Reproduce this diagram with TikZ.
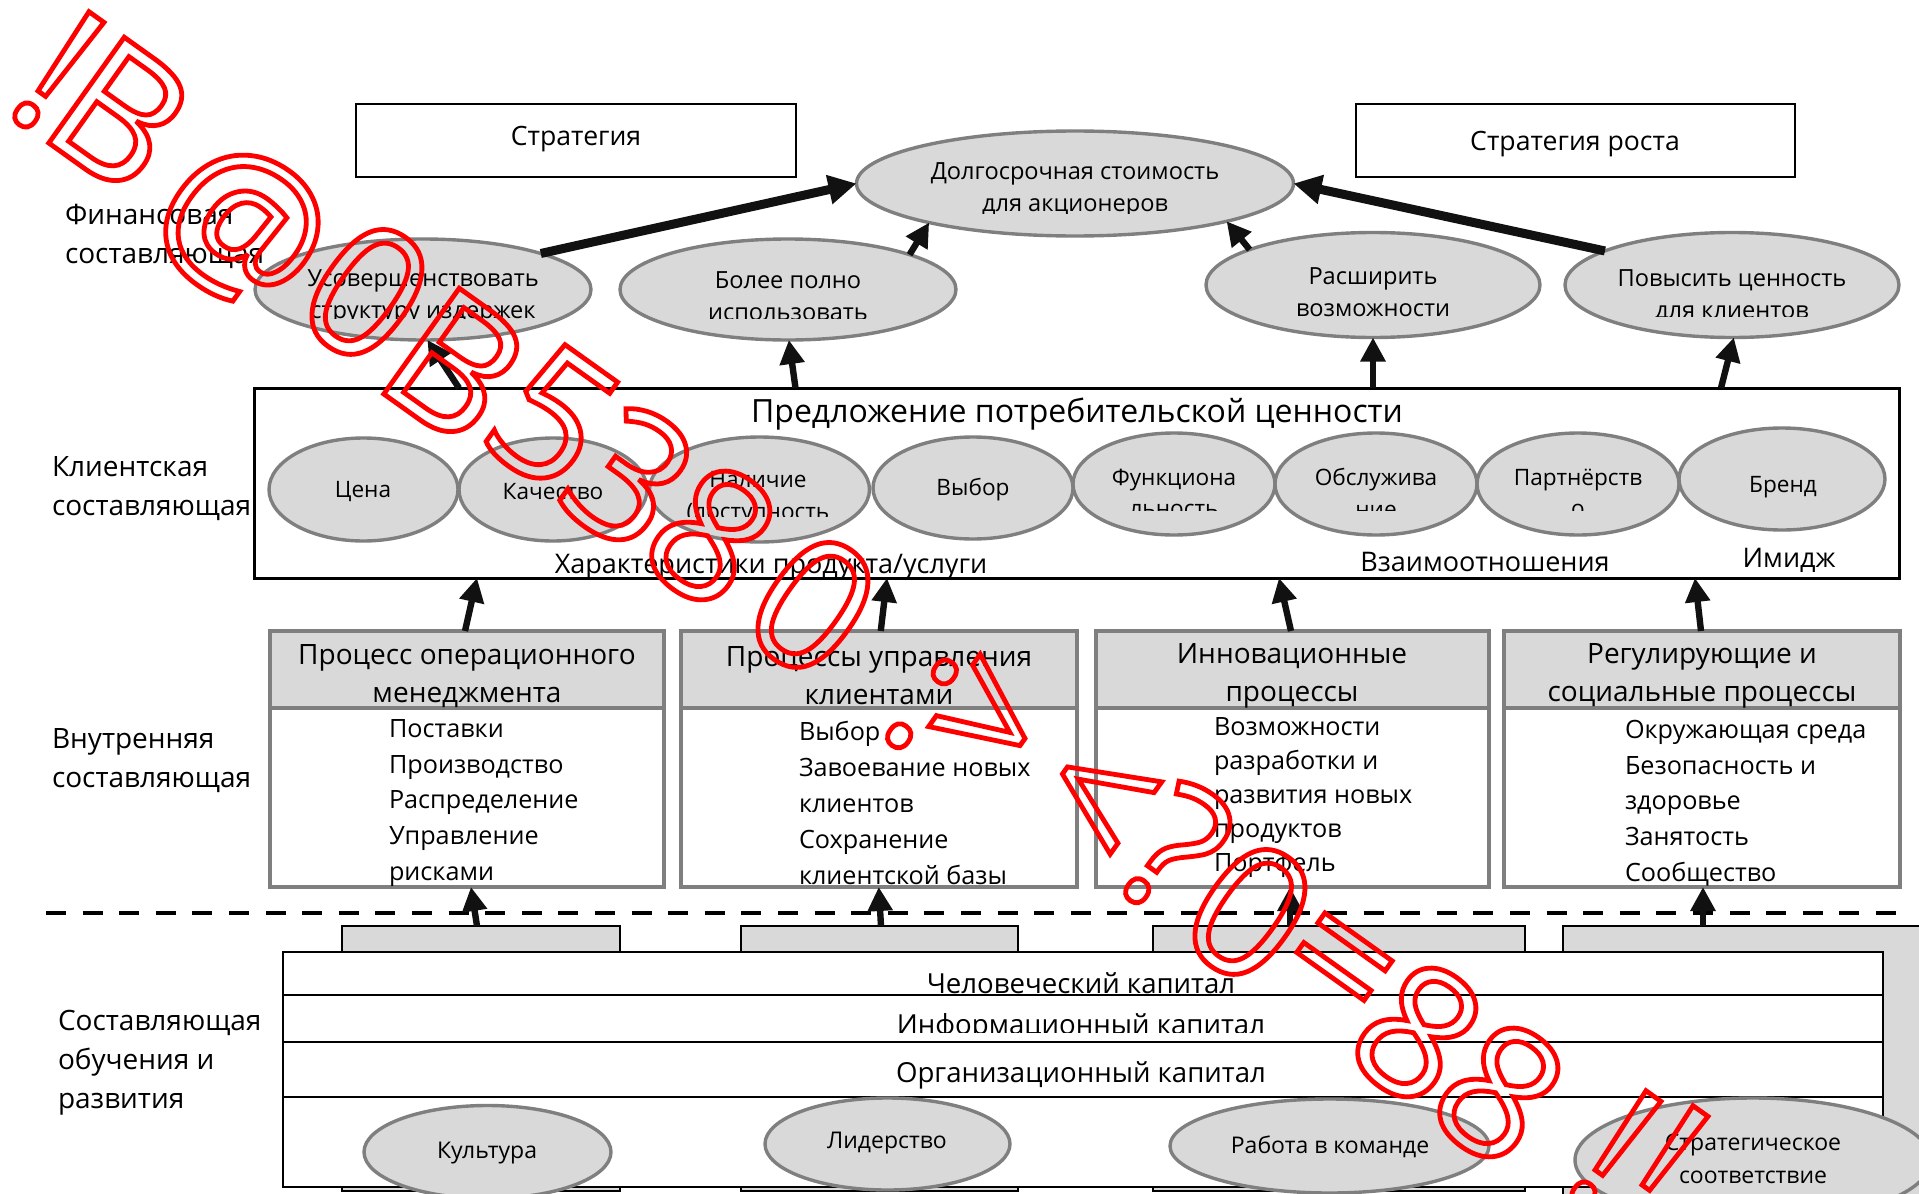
\documentclass[tikz,border=0pt]{standalone}
\usepackage{fontspec}
\setmainfont{Open Sans}
\usetikzlibrary{shapes.geometric,arrows.meta}
\definecolor{ovalfill}{HTML}{D9D9D9}
\definecolor{ovaledge}{HTML}{7F7F7F}
\definecolor{ink}{HTML}{111111}
\definecolor{markred}{HTML}{FF0000}
\newcommand\fsz[2]{\fontsize{#1}{#2}\selectfont}
% stroked (outline) glyphs through a raw content-stream literal
\newcommand\outl[1]{\special{pdf:literal direct 1 Tr 2.4 w 1 0 0 RG}#1\special{pdf:literal direct 0 Tr}}

\begin{document}
\begin{tikzpicture}[x=0.5pt,y=-0.5pt,
  every node/.style={inner sep=0pt,outer sep=0pt},
  frame/.style={rectangle,draw=black,line width=1.3pt,fill=white},
  oval/.style={ellipse,draw=ovaledge,fill=ovalfill,line width=1.7pt},
  head/.style={rectangle,draw=ovaledge,fill=ovalfill,line width=2.2pt,minimum height=38.5pt},
  body/.style={rectangle,draw=ovaledge,fill=white,line width=2.2pt,minimum height=89.5pt},
  tab/.style={rectangle,draw=black,fill=ovalfill,line width=1pt},
  layer/.style={rectangle,draw=black,fill=white,line width=1pt,minimum width=799.8pt},
  arr/.style={draw=ink,line width=3.2pt,-{Triangle[length=12pt,width=12pt]}},
  bigarr/.style={draw=ink,line width=4.5pt,-{Triangle[length=14pt,width=14pt]}},
  side/.style={anchor=west,align=left,font=\fsz{14}{19.5}},
  boxtxt/.style={font=\fsz{13.3}{16}},
  fintxt/.style={align=center,font=\fsz{11.8}{16}},
  cvtxt/.style={align=center,font=\fsz{11.3}{15.75}},
  captxt/.style={font=\fsz{13.5}{16}},
  headtxt/.style={align=center,font=\fsz{14}{19}},
  listtxt/.style={anchor=west,align=left,font=\fsz{12.6}{17.9}},
  rowtxt/.style={font=\fsz{13.8}{16}},
  lowtxt/.style={align=center,font=\fsz{11.5}{16.5}},
  wmark/.style={rotate=-35.5,text=markred,font=\fsz{91}{91}}
]
\useasboundingbox (0,0) rectangle (1919,1194);
\clip (0,0) rectangle (1919,1194);

% ---------- learning and growth ----------
\node[tab,minimum width=139pt,minimum height=132.5pt] (tab1) at (481,1058.5) {};
\node[tab,minimum width=138.5pt,minimum height=132.5pt] (tab2) at (879.5,1058.5) {};
\node[tab,minimum width=186pt,minimum height=132.5pt] (tab3) at (1339,1058.5) {};
\node[tab,minimum width=198.5pt,minimum height=152pt] (tab4) at (1761.5,1078) {};

\node[layer,minimum height=21.5pt] (hum) at (1082.8,973.5) {};
\node[layer,minimum height=23.5pt] (inf) at (1082.8,1018.5) {};
\node[layer,minimum height=27.5pt] (org) at (1082.8,1069.5) {};
\node[layer,minimum height=45pt] (cult) at (1082.8,1142) {};

\node[rowtxt] (humt) at (1081,983) {Человеческий капитал};
\begin{scope}
  \clip (283,995) rectangle (1883,1032);
  \node[rowtxt] (inft) at (1081,1027) {Информационный капитал};
\end{scope}
\node[rowtxt] (orgt) at (1081,1075) {Организационный капитал};

\node[oval,minimum width=123.5pt,minimum height=46.5pt] (culture) at (487.5,1152) {};
\node[oval,minimum width=122.5pt,minimum height=46pt] (lead) at (887.5,1144) {};
\node[oval,minimum width=159.5pt,minimum height=47pt] (team) at (1329.5,1146) {};
\node[oval,minimum width=178pt,minimum height=62pt] (align) at (1753,1160) {};
\node[lowtxt] (culturet) at (487,1153) {Культура};
\node[lowtxt] (leadt) at (887,1143) {Лидерство};
\node[lowtxt] (teamt) at (1330,1147) {Работа в команде};
\node[lowtxt] (alignt) at (1753,1158.5) {Стратегическое\\соответствие};

% ---------- boundary ----------
\coordinate (dashL) at (46,913);
\coordinate (dashR) at (1900,913);
\draw[line width=2pt,dash pattern=on 10pt off 8.3pt] (dashL) -- (dashR);

% ---------- internal processes ----------
\node[body,minimum width=197pt] (body1) at (467,797.5) {};
\node[body,minimum width=198pt] (body2) at (878.75,797.5) {};
\node[body,minimum width=196.5pt] (body3) at (1292.5,797.5) {};
\node[body,minimum width=198pt] (body4) at (1702,797.5) {};
\node[head,minimum width=197pt] (hdr1) at (467,669.5) {};
\node[head,minimum width=198pt] (hdr2) at (878.75,669.5) {};
\node[head,minimum width=196.5pt] (hdr3) at (1292.5,669.5) {};
\node[head,minimum width=198pt] (hdr4) at (1702,669.5) {};

\node[headtxt] (hdr1t) at (467,676) {Процесс операционного\\менеджмента};
\node[headtxt] (hdr2t) at (879,676) {Процессы управления\\клиентами};
\node[headtxt] (hdr3t) at (1292,676) {Инновационные\\процессы};
\node[headtxt] (hdr4t) at (1702,676) {Регулирующие и\\социальные процессы};

\node[listtxt] (list1) at (389,803) {Поставки\\Производство\\Распределение\\Управление\\рисками};
\node[listtxt] (list2) at (799,803) {Выбор\\Завоевание новых\\клиентов\\Сохранение\\клиентской базы};
\node[listtxt,font=\fsz{12.6}{17}] (list3) at (1214,798) {Возможности\\разработки и\\развития новых\\продуктов\\Портфель};
\node[listtxt] (list4) at (1625,803) {Окружающая среда\\Безопасность и\\здоровье\\Занятость\\Сообщество};

% ---------- customer value proposition ----------
\node[frame,line width=1.5pt,minimum width=822.5pt,minimum height=95pt] (cvp) at (1077,483) {};
\node[font=\fsz{16}{18}] (cvpt) at (1077,414) {Предложение потребительской ценности};

\node[oval,minimum width=94.5pt,minimum height=51.5pt] (price) at (363.5,489.5) {};
\node[oval,minimum width=94pt,minimum height=51.5pt] (qual) at (553,489.5) {};
\node[oval,minimum width=110pt,minimum height=52.5pt] (avail) at (759.5,489.5) {};
\node[oval,minimum width=100pt,minimum height=51pt] (choice) at (973,488) {};
\node[oval,minimum width=101pt,minimum height=51pt] (func) at (1174,484) {};
\node[oval,minimum width=101pt,minimum height=51pt] (serv) at (1376,484) {};
\node[oval,minimum width=101pt,minimum height=51pt] (partner) at (1578,484) {};
\node[oval,minimum width=103pt,minimum height=51pt] (brand) at (1782,479) {};

\node[cvtxt] (pricet) at (363,492) {Цена};
\node[cvtxt] (qualt) at (553,492) {Качество};
\node[cvtxt] (choicet) at (973,490) {Выбор};
\node[cvtxt] (brandt) at (1783,487) {Бренд};
\begin{scope}
  \clip (640,430) rectangle (880,516);
  \node[cvtxt] (availt) at (758,498) {Наличие\\(доступность};
\end{scope}
\begin{scope}
  \clip (1070,420) rectangle (1890,510);
  \node[cvtxt] (funct) at (1174,493) {Функциона\\льность};
  \node[cvtxt] (servt) at (1376,493) {Обслужива\\ние};
  \node[cvtxt] (partnert) at (1578,493) {Партнёрств\\о};
\end{scope}

\begin{scope}
  \clip (254,540) rectangle (1300,578);
  \node[captxt] (prodt) at (771,567) {Характеристики продукта/услуги};
\end{scope}
\node[captxt] (relt) at (1485,562) {Взаимоотношения};
\node[captxt] (imaget) at (1789,560) {Имидж};

% ---------- financial ----------
\node[frame,line width=1.2pt,minimum width=220pt,minimum height=36.5pt] (strat) at (576,140.5) {};
\node[frame,line width=1.2pt,minimum width=219.5pt,minimum height=36.5pt] (gstrat) at (1575.5,140.5) {};
\node[boxtxt] (stratt) at (576,139) {Стратегия};
\node[boxtxt] (gstratt) at (1575,144) {Стратегия роста};

\node[oval,minimum width=218.5pt,minimum height=52.5pt] (ltv) at (1075,183.5) {};
\node[oval,minimum width=168pt,minimum height=50.5pt] (cost) at (423,289.5) {};
\node[oval,minimum width=168pt,minimum height=50.5pt] (use) at (788,289.5) {};
\node[oval,minimum width=167pt,minimum height=52.5pt] (grow) at (1373,285) {};
\node[oval,minimum width=167pt,minimum height=52.5pt] (cval) at (1732,285) {};

\begin{scope}
  \clip (850,120) rectangle (1300,213);
  \node[fintxt] (ltvt) at (1075,190) {Долгосрочная стоимость\\для акционеров};
\end{scope}
\begin{scope}
  \clip (250,230) rectangle (960,318);
  \node[fintxt] (costt) at (423,296.5) {Усовершенствовать\\структуру издержек};
  \node[fintxt] (uset) at (788,296.5) {Более полно\\использовать};
\end{scope}
\node[fintxt] (growt) at (1373,292) {Расширить\\возможности};
\begin{scope}
  \clip (1560,230) rectangle (1905,316);
  \node[fintxt] (cvalt) at (1732,296.5) {Повысить ценность\\для клиентов};
\end{scope}

\node[side] (lfin) at (65,236) {Финансовая\\составляющая};
\node[side] (lcus) at (52,489) {Клиентская\\составляющая};
\node[side] (lint) at (52,760.5) {Внутренняя\\составляющая};
\node[side] (llrn) at (58,1063) {Составляющая\\обучения и\\развития};

% ---------- connectors ----------
\draw[bigarr] (cost.17) -- (ltv.west);
\draw[bigarr] (cval.165) -- (ltv.east);
\draw[arr] (use.16) -- (ltv.-165);
\draw[arr] (grow.164) -- (ltv.-14);

\draw[arr] ([xshift=-309pt]cvp.north) -- (cost.-85);
\draw[arr] ([xshift=-140.75pt]cvp.north) -- (use.-89);
\draw[arr] ([xshift=148pt]cvp.north) -- (grow.south);
\draw[arr] ([xshift=322pt]cvp.north) -- (cval.-88);

\draw[arr] ([xshift=-1pt]hdr1.north) -- ([xshift=-300pt]cvp.south);
\draw[arr] ([xshift=1pt]hdr2.north) -- ([xshift=-95pt]cvp.south);
\draw[arr] ([xshift=-0.75pt]hdr3.north) -- ([xshift=101pt]cvp.south);
\draw[arr] ([xshift=-0.5pt]hdr4.north) -- ([xshift=309pt]cvp.south);

\draw[arr] ([xshift=-2pt]tab1.north) -- ([xshift=2pt]body1.south);
\draw[arr] ([xshift=0.75pt]tab2.north) -- (body2.south);
\draw[arr] ([xshift=-24.5pt]tab3.north) -- ([xshift=-1.25pt]body3.south);
\draw[arr] ([xshift=70pt]tab4.north west) -- ([xshift=0.5pt]body4.south);

% ---------- stamp ----------
\node[wmark] (w1) at (58,71) {\outl{!}};
\node[wmark] (w2) at (120,114) {\outl{B}};
\node[wmark] (w3) at (242,227) {\outl{@}};
\node[wmark] (w4) at (367,292) {\outl{0}};
\node[wmark] (w5) at (455,365) {\outl{B}};
\node[wmark] (w6) at (553,417) {\outl{5}};
\node[wmark] (w7) at (630,477) {\outl{3}};
\node[wmark] (w8) at (712,535) {\outl{8}};
\node[wmark] (w9) at (813,605) {\outl{0}};
\node[wmark] (w10) at (922,704) {\outl{:}};
\node[wmark] (w11) at (983,724) {\outl{>}};
\node[wmark] (w12) at (1095,802) {\outl{<}};
\node[wmark] (w13) at (1175,850) {\outl{?}};
\node[wmark] (w14) at (1250,912) {\outl{0}};
\node[wmark] (w15) at (1333,973) {\outl{=}};
\node[wmark] (w16) at (1418,1032) {\outl{8}};
\node[wmark] (w17) at (1500,1092) {\outl{8}};
\node[wmark] (w18) at (1615,1150) {\outl{!}};
\node[wmark] (w19) at (1662,1165) {\outl{!}};
\end{tikzpicture}
\end{document}
